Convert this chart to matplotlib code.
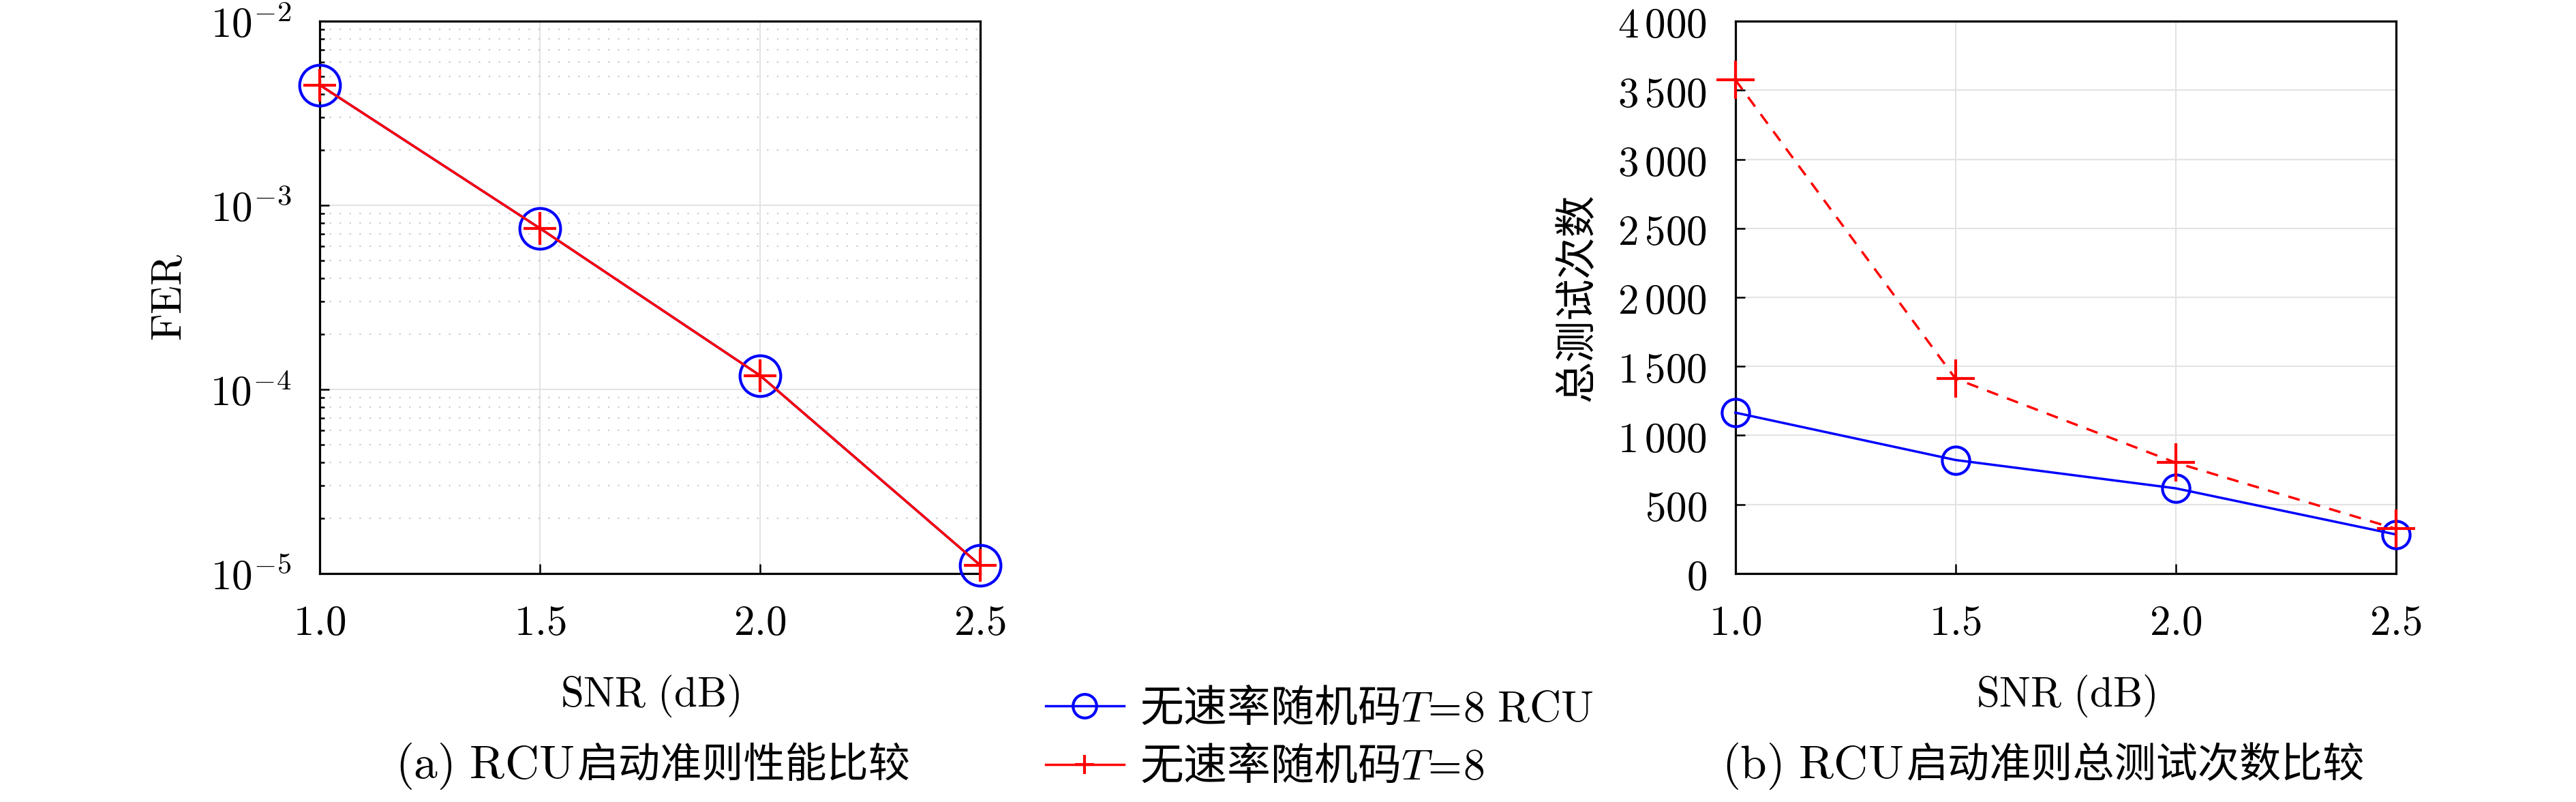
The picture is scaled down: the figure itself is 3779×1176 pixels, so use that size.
import matplotlib
matplotlib.use("Agg")
import matplotlib.pyplot as plt
from matplotlib.ticker import FixedLocator, FixedFormatter, LogLocator, NullFormatter
import numpy as np

plt.rcParams['font.family'] = ['Noto Sans CJK SC', 'DejaVu Sans']
plt.rcParams['mathtext.fontset'] = 'cm'

snr = [1.0, 1.5, 2.0, 2.5]
snr_labels = ["1.0", "1.5", "2.0", "2.5"]
fer_rcu = [4.5e-3, 7.5e-4, 1.19e-4, 1.11e-5]
fer_plain = [4.5e-3, 7.5e-4, 1.19e-4, 1.11e-5]
fer_ticks = [1e-5, 1e-4, 1e-3, 1e-2]
fer_tick_labels = ["$10^{-5}$", "$10^{-4}$", "$10^{-3}$", "$10^{-2}$"]
tests_rcu = [1165, 822, 617, 283]
tests_plain = [3575, 1411, 803, 324]
tests_ticks = [0, 500, 1000, 1500, 2000, 2500, 3000, 3500, 4000]
tests_tick_labels = ["0", "500", r"1\,000", r"1\,500", r"2\,000", r"2\,500",
                     r"3\,000", r"3\,500", r"4\,000"]
label_rcu = "无速率随机码$T\\!=\\!8\\ \\mathrm{RCU}$"
label_plain = "无速率随机码$T\\!=\\!8$"
caption_a_roman = "$\\mathrm{(a)\\ RCU}$"
caption_a_cjk = "启动准则性能比较"
caption_b_roman = "$\\mathrm{(b)\\ RCU}$"
caption_b_cjk = "启动准则总测试次数比较"

FS = 44
W, H = 3780, 1176
fig = plt.figure(figsize=(37.8, 11.76), dpi=100)
ax1 = fig.add_axes([0.1241, 0.2849, 0.2563, 0.6887])
ax2 = fig.add_axes([0.6735, 0.2849, 0.2563, 0.6887])

def style(ax):
    for s in ax.spines.values():
        s.set_linewidth(2.3)
        s.set_color('black')
    ax.tick_params(which='both', direction='in', top=False, right=False)
    ax.tick_params(which='major', length=10, width=1.8, labelsize=FS, pad=30)
    ax.tick_params(which='minor', length=5, width=1.8)
    ax.set_xlim(1.0, 2.5)
    ax.xaxis.set_major_locator(FixedLocator(snr))
    ax.xaxis.set_major_formatter(FixedFormatter(["$%s$" % s for s in snr_labels]))
    ax.set_xlabel("$\\mathrm{SNR\\ (dB)}$", fontsize=FS, labelpad=30)

# Left plot
style(ax1)
ax1.set_yscale('log')
ax1.set_ylim(1e-5, 1e-2)
ax1.yaxis.set_major_locator(FixedLocator(fer_ticks))
ax1.yaxis.set_major_formatter(FixedFormatter(fer_tick_labels))
ax1.yaxis.set_minor_locator(LogLocator(base=10, subs=np.arange(2, 10)))
ax1.yaxis.set_minor_formatter(NullFormatter())
ax1.grid(True, which='major', color='#e3e3e3', lw=1.5, ls='-')
ax1.grid(True, which='minor', axis='y', color='#c8c8c8', lw=1.5, ls=(0, (1, 6)))
ax1.set_axisbelow(True)
h1, = ax1.plot(snr, fer_rcu, color='#0000ff', lw=2.5, marker='o', ms=43,
               mfc='none', mew=3, clip_on=False, zorder=3, label=label_rcu)
h2, = ax1.plot(snr, fer_plain, color='#ff0000', lw=2.5, marker='+', ms=34,
               mew=3, clip_on=False, zorder=4, label=label_plain)
ax1.set_ylabel("$\\mathrm{FER}$", fontsize=FS, labelpad=20)

# Right plot
style(ax2)
ax2.set_ylim(0, 4000)
ax2.yaxis.set_major_locator(FixedLocator(tests_ticks))
ax2.yaxis.set_major_formatter(FixedFormatter(["$%s$" % s for s in tests_tick_labels]))
ax2.grid(True, which='major', color='#e3e3e3', lw=1.5, ls='-')
ax2.set_axisbelow(True)
ax2.plot(snr, tests_rcu, color='#0000ff', lw=2.5, marker='o', ms=29,
         mfc='none', mew=3, clip_on=False, zorder=3)
ax2.plot(snr, tests_plain, color='#ff0000', lw=2.5, ls=(0, (5, 4)), marker='+', ms=40,
         mew=3, clip_on=False, zorder=4)
ax2.set_ylabel("总测试次数", fontsize=FS, labelpad=20)

# Legend
leg = fig.legend(handles=[h1, h2], loc='center', bbox_to_anchor=(0.512, 0.08),
                 frameon=False, fontsize=46, handlelength=1.8, markerscale=0.58,
                 handletextpad=0.36, labelspacing=0.3)

# Captions (roman part slightly larger, as in the LaTeX source)
cap_y = 1 - 1123 / H
fig.text(842 / W, cap_y, caption_a_roman, fontsize=50, ha='right', va='center')
fig.text(847 / W, cap_y, caption_a_cjk, fontsize=44, ha='left', va='center')
fig.text(2792 / W, cap_y, caption_b_roman, fontsize=50, ha='right', va='center')
fig.text(2797 / W, cap_y, caption_b_cjk, fontsize=44, ha='left', va='center')

fig.savefig("out.png", dpi=100)
